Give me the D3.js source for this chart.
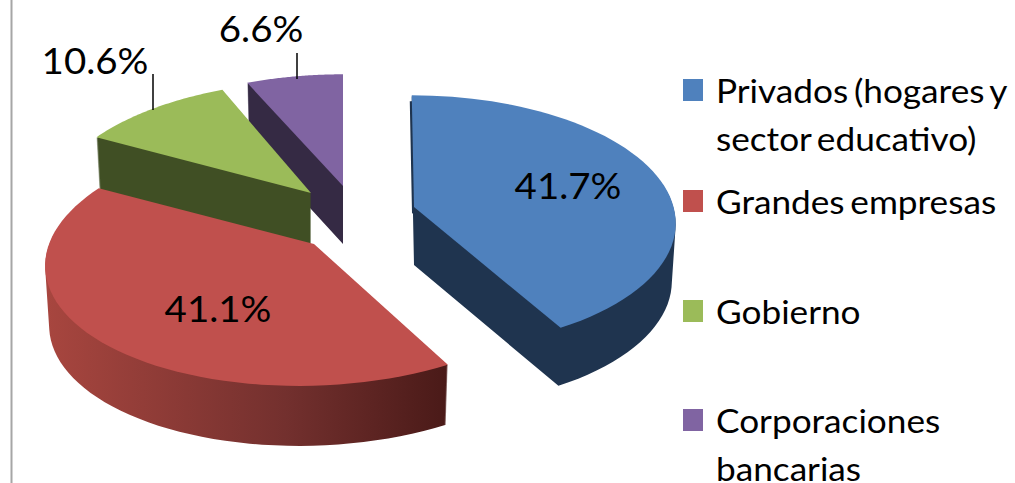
<!DOCTYPE html>
<html>
<head>
<meta charset="utf-8">
<script src="https://cdnjs.cloudflare.com/ajax/libs/d3/7.8.5/d3.min.js"></script>
<style>
    html, body { margin: 0; padding: 0; background: #fff; overflow: hidden; }
    text { font-family: Lato, "Open Sans", sans-serif; fill: #000; }
</style>
</head>
<body>
<script>
var categories = ['Privados (hogares y|sector educativo)', 'Grandes empresas', 'Gobierno', 'Corporaciones|bancarias'];
var values = [41.7, 41.1, 10.6, 6.6];
var colors = ['#4f81bd', '#c0504d', '#9bbb59', '#8064a2'];
var sideColors = ['#1f344f', 'url(#redSide)', '#404f24', '#352a44'];

(function() {
    var width = 1015, height = 483;

    // where each exploded slice has its tip, how wide it is drawn, and how it leans
    var tips = [[414, 207], [314, 244], [311, 193], [343, 186]];
    var widen = [0.965, 0.985, 0.97, 0.98];
    var shear = [0.02, -0.11, -0.06, 0];
    var depths = [58, 60, 58, 58];

    // labels and leader lines sit by hand like in the original
    var labelPos = [[568, 199], [218, 322], [95, 74], [261, 42]];
    var leaders = [null, null, [153, 74, 110], [297, 53, 79]];
    var legendRows = [103, 214, 324, 433];

    var svg = d3.select('body').append('svg')
                .attr('width', width)
                .attr('height', height);

    var grad = svg.append('defs').append('linearGradient')
                .attr('id', 'redSide')
                .attr('gradientUnits', 'userSpaceOnUse')
                .attr('x1', 44).attr('x2', 447).attr('y1', 0).attr('y2', 0);
    grad.append('stop').attr('offset', '0%').attr('stop-color', '#a8463f');
    grad.append('stop').attr('offset', '60%').attr('stop-color', '#73302e');
    grad.append('stop').attr('offset', '100%').attr('stop-color', '#4a1a18');

    svg.append('line')
        .attr('x1', 11.5).attr('x2', 11.5)
        .attr('y1', 0).attr('y2', height)
        .attr('stroke', '#a6a6a6')
        .attr('stroke-width', 2);

    var arcs = d3.pie().sort(null)(values);
    var line = d3.line();

    // perspective: the front of the disc looks bigger than the back
    var project = function(angle, i, shrink) {
        var back = -Math.cos(angle);
        var s = 1 / (1 - 0.119 * back);
        var y = 125 * back * s;
        return [(269 * widen[i] * Math.sin(angle) * s + shear[i] * y) * shrink, y];
    };

    var outline = function(i, dx, dy, shrink) {
        var a = arcs[i];
        var steps = d3.range(0, 61).map(function(n) {
            var p = project(a.startAngle + (a.endAngle - a.startAngle) * n / 60, i, shrink);
            return [tips[i][0] + p[0] + dx, tips[i][1] + p[1] + dy];
        });
        steps.unshift([tips[i][0] + dx, tips[i][1] + dy]);
        return line(steps) + 'Z';
    };

    // back slices first, so the red one covers the green wall
    [3, 2, 0, 1].forEach(function(i) {
        var side = d3.range(1, depths[i] + 1).map(function(d) {
            return outline(i, 0, d, 1 - 0.015 * d / depths[i]);
        }).join('');
        if (i === 0) {
            side += outline(i, -2, 6, 1);
        }
        svg.append('path')
            .attr('d', side)
            .attr('fill', sideColors[i]);
        svg.append('path')
            .attr('d', outline(i, 0, 0, 1))
            .attr('fill', colors[i]);
    });

    svg.selectAll('text.pct')
        .data(values)
        .enter()
            .append('text')
            .attr('class', 'pct')
            .attr('transform', function(d, i) {
                return 'translate(' + labelPos[i][0] + ',' + labelPos[i][1] + ') scale(1.04,1)';
            })
            .attr('text-anchor', 'middle')
            .attr('font-size', 37)
            .text(function(d) { return d3.format('.1f')(d) + '%'; });

    leaders.forEach(function(l) {
        if (!l) return;
        svg.append('line')
            .attr('x1', l[0]).attr('x2', l[0])
            .attr('y1', l[1]).attr('y2', l[2])
            .attr('stroke', '#000')
            .attr('stroke-width', 1.5);
    });

    categories.forEach(function(c, i) {
        svg.append('rect')
            .attr('x', 683)
            .attr('y', legendRows[i] - 24)
            .attr('width', 20)
            .attr('height', 22)
            .attr('fill', colors[i]);
        c.split('|').forEach(function(t, j) {
            svg.append('text')
                .attr('transform', 'translate(716,' + (legendRows[i] + j * 48) + ') scale(1.1,1)')
                .attr('font-size', 32)
                .attr('word-spacing', -3)
                .text(t);
        });
    });
}());
</script>
</body>
</html>
